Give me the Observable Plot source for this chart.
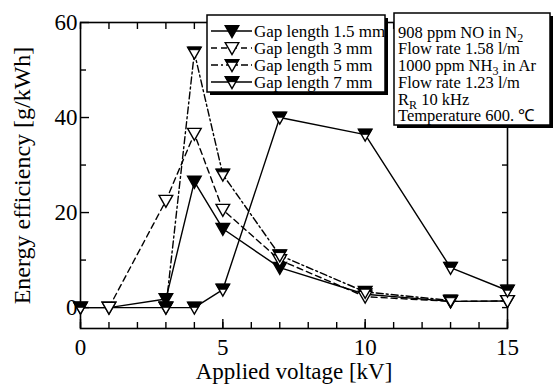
<!DOCTYPE html>
<html><head><meta charset="utf-8">
<script src="https://cdn.jsdelivr.net/npm/d3@7"></script>
<script src="https://cdn.jsdelivr.net/npm/@observablehq/plot@0.6"></script>
<style>
body{margin:0;background:#fff;}
svg{font-family:"Liberation Serif",serif;}
</style>
</head><body><div id="chart"></div>
<script>
// ---- data ----
const seriesNames = ["Gap length 1.5 mm", "Gap length 3 mm", "Gap length 5 mm", "Gap length 7 mm"];
const voltage15 = [0, 1, 3, 4, 5, 7, 10, 13, 15];
const eff15     = [0, 0, 1.8, 26.5, 16.6, 8.4, 2.8, 1.3, 1.4];
const voltage3  = [1, 3, 4, 5, 7, 10, 13, 15];
const eff3      = [0, 22.5, 36.6, 20.6, 10, 2.3, 1.3, 1.4];
const voltage5  = [3, 4, 5, 7, 10, 13];
const eff5      = [0, 53.7, 28, 11, 3.3, 1.5];
const voltage7  = [0, 3, 4, 5, 7, 10, 13, 15];
const eff7      = [0, 0, 0, 3.8, 40, 36.4, 8.4, 3.6];
const xTicks = [0, 5, 10, 15];
const yTicks = [0, 20, 40, 60];
const xTitle = "Applied voltage [kV]";
const yTitle = "Energy efficiency [g/kWh]";
const infoLines = [
  ["908 ppm NO in N", "2", ""],
  ["Flow rate 1.58 l/m", "", ""],
  ["1000 ppm NH", "3", " in Ar"],
  ["Flow rate 1.23 l/m", "", ""],
  ["R", "R", " 10 kHz"],
  ["Temperature 600. \u2103", "", ""]
];

// ---- symbols ----
const H = 1.75;
const triDown = {draw(ctx, size){const r=Math.sqrt(size/Math.PI), h=r*H, t=-h*0.45;
  ctx.moveTo(-r,t); ctx.lineTo(r,t); ctx.lineTo(0,t+h); ctx.closePath();}};
const band = f => ({draw(ctx, size){const r=Math.sqrt(size/Math.PI), h=r*H, t=-h*0.45;
  const yb=t+f*h, wb=r*(1-f);
  ctx.moveTo(-r,t); ctx.lineTo(r,t); ctx.lineTo(wb,yb); ctx.lineTo(-wb,yb); ctx.closePath();}});

const series = [
  {name: seriesNames[0], x: voltage15, y: eff15, dash: null, fill: "black", band: 0},
  {name: seriesNames[1], x: voltage3, y: eff3, dash: "6,4", fill: "white", band: 0},
  {name: seriesNames[2], x: voltage5, y: eff5, dash: "7,3,2,3", fill: "white", band: 0.22},
  {name: seriesNames[3], x: voltage7, y: eff7, dash: null, fill: "white", band: 0.42}
];
series.forEach(s => s.rows = s.x.map((v,i)=>({v, e: s.y[i]})));

const FF = "Liberation Serif";
const R = 6.8;
const marks = [
  Plot.frame({stroke: "black", strokeWidth: 1.6}),
  Plot.axisY({anchor: "left", ticks: yTicks, tickSize: 0, tickPadding: 3, fontSize: 23, fontFamily: FF, fill: "black", label: null}),
  Plot.axisY({anchor: "left", ticks: yTicks, tickSize: -9, tickFormat: () => "", label: null, strokeWidth: 1.4}),
  Plot.axisY({anchor: "left", ticks: [10, 30, 50], tickSize: -6, tickFormat: () => "", label: null, strokeWidth: 1.4}),
  Plot.axisY({anchor: "right", ticks: [0,10,20,30,40,50,60], tickSize: -6, tickFormat: () => "", label: null, strokeWidth: 1.4}),
  Plot.axisX({anchor: "bottom", ticks: xTicks, tickSize: 0, tickPadding: 10, fontSize: 23, fontFamily: FF, fill: "black", label: null}),
  Plot.axisX({anchor: "bottom", ticks: d3.range(0, 16), tickSize: -6, tickFormat: () => "", label: null, strokeWidth: 1.4}),
  Plot.axisX({anchor: "bottom", ticks: xTicks, tickSize: -9, tickFormat: () => "", label: null, strokeWidth: 1.4}),
  Plot.axisX({anchor: "top", ticks: d3.range(0, 16), tickSize: -6, tickFormat: () => "", label: null, strokeWidth: 1.4}),
];
series.forEach(s => marks.push(Plot.line(s.rows, {x: "v", y: "e", stroke: "black", strokeWidth: 1.4, strokeDasharray: s.dash})));
series.forEach(s => {
  marks.push(Plot.dot(s.rows, {x: "v", y: "e", symbol: triDown, r: R, fill: s.fill, stroke: "black", strokeWidth: 1.4}));
  if (s.band) marks.push(Plot.dot(s.rows, {x: "v", y: "e", symbol: band(s.band), r: R, fill: "black", stroke: "black", strokeWidth: 1}));
});
marks.push(Plot.text([xTitle], {frameAnchor: "bottom", dy: 43, lineAnchor: "middle", textAnchor: "middle", fontSize: 23, fontFamily: FF, fill: "black"}));
marks.push(Plot.text([yTitle], {frameAnchor: "left", dx: -58, rotate: -90, textAnchor: "middle", lineAnchor: "middle", fontSize: 24, fontFamily: FF, fill: "black"}));

const svg = Plot.plot({
  width: 554, height: 390,
  marginLeft: 80, marginRight: 47, marginTop: 22, marginBottom: 62,
  x: {domain: [0, 15]},
  y: {domain: [-4.4, 60]},
  style: {fontFamily: FF, color: "black", background: "white", overflow: "visible"},
  marks
});
document.getElementById("chart").append(svg);

// ---- legend & info boxes ----
const g = d3.select(svg).append("g").attr("text-anchor", "start").attr("font-family", FF);
function box(x, y, w, h){
  g.append("rect").attr("x", x+3).attr("y", y+3).attr("width", w).attr("height", h).attr("fill", "black");
  g.append("rect").attr("x", x).attr("y", y).attr("width", w).attr("height", h).attr("fill", "white").attr("stroke", "black").attr("stroke-width", 1.5);
}
box(207, 15, 178, 77);
const size = Math.PI * R * R;
series.forEach((s, i) => {
  const yy = 31 + i * 17;
  g.append("line").attr("x1", 211).attr("x2", 252).attr("y1", yy).attr("y2", yy)
    .attr("stroke", "black").attr("stroke-width", 1.4).attr("stroke-dasharray", s.dash);
  g.append("path").attr("transform", `translate(232,${yy})`).attr("d", d3.symbol(triDown, size)())
    .attr("fill", s.fill).attr("stroke", "black").attr("stroke-width", 1.4);
  if (s.band) g.append("path").attr("transform", `translate(232,${yy})`).attr("d", d3.symbol(band(s.band), size)())
    .attr("fill", "black").attr("stroke", "black");
  g.append("text").attr("x", 254).attr("y", yy).attr("dy", "0.35em").attr("font-size", 17).text(s.name);
});
box(394, 13, 156, 112);
infoLines.forEach((ln, i) => {
  const t = g.append("text").attr("x", 398).attr("y", 32 + i * 16.7).attr("dy", "0.35em").attr("font-size", 16.5);
  t.append("tspan").text(ln[0]);
  if (ln[1]) t.append("tspan").attr("dy", 4).attr("font-size", 12).text(ln[1]);
  if (ln[2]) t.append("tspan").attr("dy", ln[1] ? -4 : 0).text(ln[2]);
});
</script>
</body></html>
